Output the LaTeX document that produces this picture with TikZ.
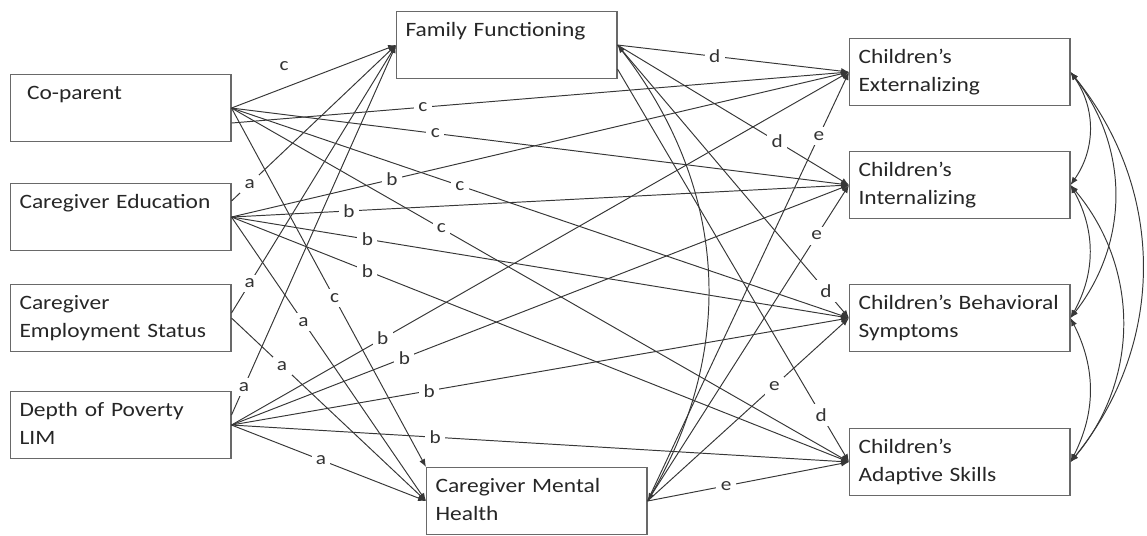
\documentclass[tikz,border=0pt]{standalone}
\usepackage{fontspec}
\setmainfont{Carlito}[FakeStretch=1.15]
\usetikzlibrary{arrows.meta,positioning,calc}
\definecolor{linegray}{RGB}{55,55,55}
\definecolor{boxgray}{RGB}{105,105,105}
\tikzset{
  box/.style={draw=boxgray, line width=0.6pt, anchor=north west,
    minimum width=4.4cm, minimum height=1.34cm, text width=4.05cm,
    inner xsep=0.18cm, inner ysep=0.05cm, align=left, text=black!85,
    font=\fontsize{11.6}{16}\selectfont},
  arr/.style={draw=linegray, line width=0.55pt, -{Latex[length=4.5pt,width=3.5pt]}},
  cor/.style={arr, {Latex[length=4.5pt,width=3.5pt]}-{Latex[length=4.5pt,width=3.5pt]}},
  lab/.style={fill=white, inner sep=2.5pt, text=black!80,
    font=\fontsize{10.5}{12}\selectfont}
}

\begin{document}
\begin{tikzpicture}[x=0.02cm,y=-0.02cm]
  \useasboundingbox (0,0) rectangle (1147,535);
  % predictors
  \node[box] (cop) at (10,74) {\hspace{0.15cm}Co-parent\strut\\\strut};
  \node[box] (edu) at (10,183) {Caregiver Education\strut\\\strut};
  \node[box] (emp) at (10,284) {Caregiver\strut\\Employment Status\strut};
  \node[box] (pov) at (10,391) {Depth of Poverty\strut\\LIM\strut};
  % mediators
  \node[box] (fam) at (396,11) {Family Functioning\strut\\\strut};
  \node[box] (mh) at (426,467) {Caregiver Mental\strut\\Health\strut};
  % outcomes
  \node[box] (ext) at (849,38) {Children’s\strut\\Externalizing\strut};
  \node[box] (int) at (849,151) {Children’s\strut\\Internalizing\strut};
  \node[box] (beh) at (849,284) {\mbox{Children’s Behavioral}\strut\\Symptoms\strut};
  \node[box] (ada) at (849,428) {Children’s\strut\\Adaptive Skills\strut};

  \coordinate (cop-lo) at ($(cop.east)+(0,15)$);
  \coordinate (edu-up) at ($(edu.east)+(0,-16)$);
  \coordinate (emp-up) at ($(emp.east)+(0,-5)$);
  \coordinate (pov-up) at ($(pov.east)+(0,-10)$);
  \coordinate (fam-lo) at ($(fam.south east)+(0,-10)$);

  % paths a / c into the mediators
  \draw[arr] (cop.east) -- node[lab,pos=0.32,above=7pt] (c-fam) {c} (fam.west);
  \draw[arr] (edu-up) -- node[lab,pos=0.11] (a-edu-fam) {a} (fam.west);
  \draw[arr] (emp-up) -- node[lab,pos=0.11] (a-emp-fam) {a} (fam.west);
  \draw[arr] (pov-up) -- node[lab,pos=0.075] (a-pov-fam) {a} (fam.west);
  \draw[arr] (cop.east) -- node[lab,pos=0.53] (c-mh) {c} (mh.north west);
  \draw[arr] (edu.east) -- node[lab,pos=0.37] (a-edu-mh) {a} (mh.west);
  \draw[arr] (emp.east) -- node[lab,pos=0.26] (a-emp-mh) {a} (mh.west);
  \draw[arr] (pov.east) -- node[lab,pos=0.46] (a-pov-mh) {a} (mh.west);

  % paths b / c into the outcomes
  \draw[arr] (cop-lo) -- node[lab,pos=0.31] (c-ext) {c} (ext.west);
  \foreach \o/\p in {int/0.33,beh/0.37,ada/0.34}
    \draw[arr] (cop.east) -- node[lab,pos=\p] (c-\o) {c} (\o.west);
  \foreach \o/\p in {ext/0.26,int/0.19,beh/0.22,ada/0.22}
    \draw[arr] (edu.east) -- node[lab,pos=\p] (b-edu-\o) {b} (\o.west);
  \foreach \o/\p in {ext/0.245,int/0.28,beh/0.32,ada/0.33}
    \draw[arr] (pov.east) -- node[lab,pos=\p] (b-pov-\o) {b} (\o.west);

  % paths d / e from the mediators
  \foreach \o/\p in {ext/0.42,int/0.69,beh/0.9}
    \draw[arr] (fam.east) -- node[lab,pos=\p] (d-\o) {d} (\o.west);
  \draw[arr] (fam-lo) -- node[lab,pos=0.88] (d-ada) {d} (ada.west);
  \foreach \o/\p in {ext/0.85,int/0.84,beh/0.63,ada/0.39}
    \draw[arr] (mh.east) -- node[lab,pos=\p] (e-\o) {e} (\o.west);

  % covariances
  \draw[cor] (fam.east) to[bend left=34] (mh.east);
  \draw[cor] (ext.east) to[bend left=35] (int.east);
  \draw[cor] (ext.east) to[bend left=38] (beh.east);
  \draw[cor] (ext.east) to[bend left=39] (ada.east);
  \draw[cor] (int.east) to[bend left=29] (beh.east);
  \draw[cor] (int.east) to[bend left=40] (ada.east);
  \draw[cor] (beh.east) to[bend left=27] (ada.east);
\end{tikzpicture}
\end{document}
